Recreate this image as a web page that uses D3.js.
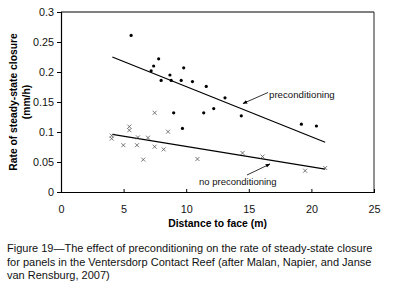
<!DOCTYPE html>
<html>
<head>
<meta charset="utf-8">
<script src="https://cdn.jsdelivr.net/npm/d3@7"></script>
<style>
  body { margin: 0; background: #fff; }
  svg { font-family: "Liberation Sans", Arial, sans-serif; }
</style>
</head>
<body>
<div id="chart"></div>
<script>
// preconditioning points (distance m, closure mm/h)
const preX = [5.6, 7.2, 7.4, 7.8, 8.0, 8.7, 8.8, 9.6, 9.8, 10.5, 11.6, 13.1, 9.0, 9.7, 11.4, 12.2, 14.4, 19.2, 20.4];
const preY = [0.261, 0.202, 0.21, 0.222, 0.186, 0.195, 0.186, 0.186, 0.207, 0.184, 0.176, 0.157, 0.132, 0.106, 0.132, 0.139, 0.127, 0.113, 0.11];

// no preconditioning points
const noX = [4.05, 4.05, 4.98, 5.46, 5.46, 6.07, 6.15, 6.57, 6.95, 7.48, 7.48, 8.2, 8.55, 10.9, 14.5, 16.1, 19.5, 21.1];
const noY = [0.094, 0.089, 0.078, 0.109, 0.103, 0.078, 0.091, 0.054, 0.0905, 0.132, 0.0755, 0.071, 0.1005, 0.055, 0.065, 0.059, 0.0355, 0.04];

// trend lines (endpoints)
const preTrend = [[4.1, 0.225], [21.1, 0.083]];
const noTrend = [[4.1, 0.096], [21.1, 0.038]];

const xTicks = [0, 5, 10, 15, 20, 25];
const yTicks = [0, 0.05, 0.1, 0.15, 0.2, 0.25, 0.3];

const caption = [
  "Figure 19\u2014The effect of preconditioning on the rate of steady-state closure",
  "for panels in the Ventersdorp Contact Reef (after Malan, Napier, and Janse",
  "van Rensburg, 2007)"
];

const W = 393, H = 287;
const mLeft = 61, mRight = 374, mTop = 12, mBottom = 192;

const svg = d3.select("#chart").append("svg")
  .attr("width", W)
  .attr("height", H);

const x = d3.scaleLinear().domain([0, 25]).range([mLeft, mRight]);
const y = d3.scaleLinear().domain([0, 0.3]).range([mBottom, mTop]);

// frame: top gray, right dark
svg.append("line")
  .attr("x1", mLeft).attr("x2", mRight).attr("y1", mTop).attr("y2", mTop)
  .attr("stroke", "#808080").attr("stroke-width", 2);
svg.append("line")
  .attr("x1", mRight).attr("x2", mRight).attr("y1", mTop).attr("y2", mBottom)
  .attr("stroke", "#222").attr("stroke-width", 1);

// axes
const xAxis = svg.append("g")
  .attr("transform", `translate(0,${mBottom})`)
  .call(d3.axisBottom(x).tickValues(xTicks).tickSize(0).tickPadding(13).tickFormat(d3.format("d")));
xAxis.selectAll(".tick").append("line")
  .attr("y1", -3).attr("y2", 1).attr("stroke", "#000");

const yAxis = svg.append("g")
  .attr("transform", `translate(${mLeft},0)`)
  .call(d3.axisLeft(y).tickValues(yTicks).tickSize(0).tickPadding(7).tickFormat(d => d === 0 ? "0" : String(+d.toFixed(2))));
yAxis.selectAll(".tick").append("line")
  .attr("x1", -4).attr("x2", 1).attr("stroke", "#000");

svg.selectAll(".domain").attr("stroke", "#000").attr("stroke-width", 1.2);
svg.selectAll(".tick text").attr("font-size", 10.8).attr("fill", "#111")
  .attr("font-family", "Liberation Sans, Arial, sans-serif");

// trend lines
const line = d3.line().x(d => x(d[0])).y(d => y(d[1]));
[preTrend, noTrend].forEach(t => {
  svg.append("path").attr("d", line(t))
    .attr("fill", "none").attr("stroke", "#000").attr("stroke-width", 1.2);
});

// preconditioning dots
svg.append("g").selectAll("circle")
  .data(d3.zip(preX, preY))
  .enter().append("circle")
  .attr("cx", d => x(d[0]))
  .attr("cy", d => y(d[1]))
  .attr("r", 1.6)
  .attr("fill", "#000");

// no preconditioning crosses
const s = 2;
svg.append("g").selectAll("path")
  .data(d3.zip(noX, noY))
  .enter().append("path")
  .attr("d", d => {
    const cx = x(d[0]), cy = y(d[1]);
    return `M${cx - s},${cy - s}L${cx + s},${cy + s}M${cx - s},${cy + s}L${cx + s},${cy - s}`;
  })
  .attr("stroke", "#555")
  .attr("stroke-width", 0.8)
  .attr("fill", "none");

// annotations with arrows
svg.append("defs").append("marker")
  .attr("id", "ah")
  .attr("viewBox", "0 0 10 10")
  .attr("refX", 9).attr("refY", 5)
  .attr("markerWidth", 6).attr("markerHeight", 6)
  .attr("orient", "auto")
  .append("path").attr("d", "M0,1L10,5L0,9Z").attr("fill", "#000");

svg.append("line")
  .attr("x1", 268).attr("y1", 92.5).attr("x2", 243).attr("y2", 103.5)
  .attr("stroke", "#000").attr("stroke-width", 0.8).attr("marker-end", "url(#ah)");
svg.append("text")
  .attr("x", 269).attr("y", 97.5)
  .attr("font-size", 9.7).attr("fill", "#111")
  .text("preconditioning");

svg.append("line")
  .attr("x1", 247).attr("y1", 175).attr("x2", 270).attr("y2", 164)
  .attr("stroke", "#000").attr("stroke-width", 0.8).attr("marker-end", "url(#ah)");
svg.append("text")
  .attr("x", 199).attr("y", 185)
  .attr("font-size", 9.5).attr("fill", "#111")
  .text("no preconditioning");

// axis titles
svg.append("text")
  .attr("x", (mLeft + mRight) / 2).attr("y", 226.5)
  .attr("text-anchor", "middle")
  .attr("font-size", 10.4).attr("font-weight", "bold")
  .text("Distance to face (m)");

const yt = svg.append("text")
  .attr("transform", `translate(17,${(mTop + mBottom) / 2}) rotate(-90)`)
  .attr("text-anchor", "middle")
  .attr("font-size", 10.3).attr("font-weight", "bold");
yt.append("tspan").attr("x", 0).attr("y", 0).text("Rate of steady-state closure");
yt.append("tspan").attr("x", 0).attr("y", 12.5).text("(mm/h)");

// caption
svg.append("g").selectAll("text")
  .data(caption)
  .enter().append("text")
  .attr("x", 7)
  .attr("y", (d, i) => 252 + i * 13.5)
  .attr("font-size", 11)
  .attr("fill", "#111")
  .text(d => d);
</script>
</body>
</html>
